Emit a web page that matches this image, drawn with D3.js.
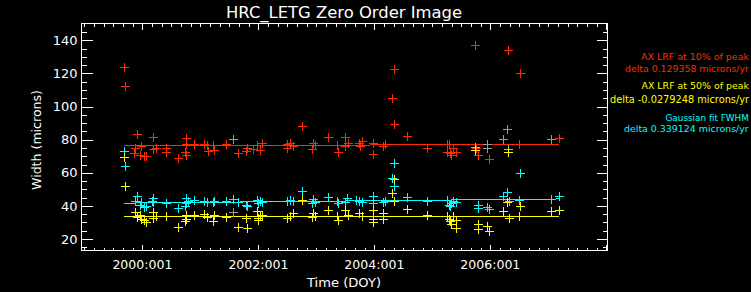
<!DOCTYPE html>
<html><head><meta charset="utf-8">
<script src="https://cdn.jsdelivr.net/npm/d3@7"></script>
<style>html,body{margin:0;padding:0;background:#000;}svg{display:block;}</style>
</head><body>
<script>
// ---- data ----
const xTickYears = [2000, 2002, 2004, 2006];
const xTickLabels = ["2000:001", "2002:001", "2004:001", "2006:001"];
const yTicks = [20, 40, 60, 80, 100, 120, 140];

// AX LRF at 10% of peak [time (yr), width (microns)]
const red10 = [[1999.68,124.0],[1999.70,112.3],[1999.91,83.5],[1999.87,75.2],[1999.98,76.4],[1999.86,71.8],[1999.96,70.8],[2000.03,70.2],[2000.07,70.2],
 [2000.18,81.8],[2000.18,74.2],[2000.23,74.9],[2000.40,74.9],[2000.40,72.8],[2000.62,69.2],[2000.75,80.9],[2000.75,77.3],[2000.73,72.8],[2000.75,70.8],
 [2000.89,77.4],[2001.06,77.4],[2001.12,76.8],[2001.13,73.2],[2001.22,76.8],[2001.24,73.8],[2001.45,77.3],[2001.64,71.8],[2001.78,73.2],[2001.80,75.2],
 [2001.97,76.8],[2002.03,73.8],[2001.91,74.2],[2002.07,77.9],[2002.50,77.4],[2002.54,78.2],[2002.60,76.2],[2002.50,74.9],[2002.76,88.5],[2002.94,78.2],
 [2002.98,76.8],[2002.92,74.2],[2003.20,81.5],[2003.36,76.8],[2003.38,72.8],[2003.49,81.5],[2003.55,78.2],[2003.49,76.2],[2003.74,78.2],[2003.78,79.4],
 [2003.75,76.2],[2003.97,78.2],[2003.98,71.2],[2004.15,76.2],[2004.18,77.4],[2004.34,122.4],[2004.30,104.9],[2004.34,89.3],[2004.56,82.3],[2004.90,74.9],
 [2005.25,77.4],[2005.29,77.4],[2005.26,72.8],[2005.33,70.8],[2005.36,74.9],[2005.41,72.8],[2005.30,71.8],[2005.74,137.4],[2005.75,74.9],[2005.78,70.8],
 [2005.97,68.2],[2006.31,134.0],[2006.51,120.0],[2006.50,77.4],[2007.19,81.2]];
// AX LRF at 50% of peak
const yellow50 = [[1999.68,69.8],[1999.70,52.2],[1999.87,36.1],[1999.90,33.4],[1999.96,34.7],[1999.98,32.1],[2000.03,31.7],[2000.07,30.1],[2000.18,36.1],
 [2000.18,32.7],[2000.23,33.7],[2000.40,34.1],[2000.62,27.3],[2000.75,34.7],[2000.75,32.1],[2000.73,30.7],[2000.89,34.7],[2001.06,35.2],[2001.12,33.4],
 [2001.22,30.7],[2001.24,34.7],[2001.45,33.4],[2001.64,27.3],[2001.78,32.7],[2001.80,26.7],[2001.97,36.7],[2002.00,32.7],[2002.03,33.7],[2002.07,34.7],
 [2002.00,31.7],[2002.50,32.7],[2002.54,34.1],[2002.60,35.8],[2002.76,43.8],[2002.94,35.8],[2002.98,34.1],[2002.92,33.4],[2003.20,37.7],[2003.36,33.7],
 [2003.38,31.7],[2003.49,37.7],[2003.55,34.7],[2003.74,35.8],[2003.78,33.7],[2003.97,37.7],[2003.97,32.1],[2003.98,30.1],[2004.15,35.8],[2004.15,32.1],
 [2004.30,47.8],[2004.34,56.2],[2004.34,42.7],[2004.56,38.2],[2004.90,34.7],[2005.25,33.7],[2005.28,32.1],[2005.33,29.3],[2005.36,33.7],[2005.41,31.7],
 [2005.30,30.7],[2005.41,26.7],[2005.74,73.8],[2005.78,29.3],[2005.78,26.1],[2005.95,27.7],[2005.97,24.7],[2006.22,37.2],[2006.29,42.1],[2006.31,72.8],
 [2006.33,32.7],[2006.51,40.2],[2006.50,34.1],[2007.05,36.7],[2007.19,37.7]];
// Gaussian fit FWHM
const cyanFwhm = [[1999.68,73.2],[1999.70,64.2],[1999.91,45.7],[1999.87,42.7],[1999.96,40.8],[1999.98,42.1],[2000.03,39.1],[2000.07,39.7],[2000.18,44.8],
 [2000.18,42.1],[2000.16,42.7],[2000.40,41.8],[2000.62,38.8],[2000.75,44.8],[2000.75,41.8],[2000.73,39.7],[2000.79,42.7],[2000.89,43.8],[2001.06,42.7],
 [2001.12,42.1],[2001.22,42.1],[2001.24,42.7],[2001.45,42.7],[2001.56,44.2],[2001.64,42.1],[2001.78,40.8],[2001.80,39.7],[2001.97,43.8],[2002.00,41.8],
 [2002.03,42.7],[2002.07,42.1],[2002.50,42.7],[2002.54,43.8],[2002.60,42.7],[2002.76,48.8],[2002.94,44.2],[2002.98,42.1],[2002.92,41.8],[2003.20,45.4],
 [2003.36,42.7],[2003.38,41.8],[2003.52,44.8],[2003.49,42.1],[2003.68,43.8],[2003.74,42.7],[2003.78,42.1],[2003.97,45.7],[2003.97,41.8],[2004.15,42.1],
 [2004.18,42.7],[2004.34,66.2],[2004.30,56.8],[2004.34,51.8],[2004.56,45.4],[2004.90,42.7],[2005.25,43.3],[2005.29,40.8],[2005.33,41.8],[2005.36,42.7],
 [2005.41,42.1],[2005.30,39.7],[2005.74,75.8],[2005.78,40.8],[2005.78,38.8],[2005.95,39.4],[2005.97,38.2],[2006.22,45.7],[2006.29,48.2],[2006.31,74.2],
 [2006.33,42.7],[2006.51,59.8],[2006.50,43.8],[2007.05,44.2],[2007.19,46.2]];
// grey markers
const greyPts = [[2001.56,80.4],[2001.56,36.1],[2005.95,77.4],[2005.95,74.9],[2006.22,80.3],[2006.29,86.3],[2007.05,80.3]];

// fit lines
const fitTimes = [1999.68, 2007.19];
const redFit = [76.2, 77.2];
const yellowFit = [33.8, 33.6];
const cyanFit = [41.7, 44.2];

const legendLines = [
  {text: "AX LRF at 10% of peak", color: "red"},
  {text: "delta 0.129358 microns/yr", color: "red"},
  {text: "AX LRF at 50% of peak", color: "yellow"},
  {text: "delta -0.0279248 microns/yr", color: "yellow"},
  {text: "Gaussian fit FWHM", color: "cyan"},
  {text: "delta 0.339124 microns/yr", color: "cyan"}
];

// ---- drawing ----
const W = 751, H = 292;
const colors = {red: "#ff2a00", yellow: "#ffff00", cyan: "#00ffff", grey: "#9a9a9a", white: "#ffffff"};
const L = 81.5, R = 607.5, T = 23.5, B = 250.5;
const FONT = "'DejaVu Sans', sans-serif";

const svg = d3.select("body").append("svg").attr("width", W).attr("height", H)
  .style("background", "#000");

const x = d3.scaleLinear().domain([1998.95, 2008.02]).range([L, R]);
const y = d3.scaleLinear().domain([13.1, 150.1]).range([B, T]);

svg.append("rect").attr("x", L).attr("y", T).attr("width", R - L).attr("height", B - T)
  .attr("fill", "none").attr("stroke", colors.white).attr("stroke-width", 1).attr("shape-rendering", "crispEdges");

const tickG = svg.append("g").attr("stroke", colors.white).attr("stroke-width", 1).attr("shape-rendering", "crispEdges");
d3.range(15, 150, 5).forEach(v => {
  const len = v % 20 === 0 ? 11 : 5;
  const yy = Math.round(y(v)) + 0.5;
  tickG.append("line").attr("x1", L).attr("x2", L + len).attr("y1", yy).attr("y2", yy);
  tickG.append("line").attr("x1", R).attr("x2", R - len).attr("y1", yy).attr("y2", yy);
});
d3.range(0, 60).map(i => 1999 + i / 6).filter(t => t > 1998.95 && t < 2008.02).forEach(t => {
  const major = Math.abs((t - 2000) / 2 - Math.round((t - 2000) / 2)) < 1e-6;
  const len = major ? 6 : 3;
  const xx = Math.round(x(t)) + 0.5;
  tickG.append("line").attr("x1", xx).attr("x2", xx).attr("y1", B).attr("y2", B - len);
  tickG.append("line").attr("x1", xx).attr("x2", xx).attr("y1", T).attr("y2", T + len);
});

svg.append("g").selectAll("text").data(yTicks).join("text")
  .attr("x", 77.5).attr("y", d => y(d) + 4.7).attr("text-anchor", "end")
  .attr("fill", colors.white).attr("font-family", FONT).attr("font-size", 13).text(d => d);

svg.append("g").selectAll("text").data(xTickYears).join("text")
  .attr("x", d => x(d)).attr("y", 269).attr("text-anchor", "middle")
  .attr("fill", colors.white).attr("font-family", FONT).attr("font-size", 12.5)
  .attr("textLength", 60).attr("lengthAdjust", "spacingAndGlyphs")
  .text((d, i) => xTickLabels[i]);

svg.append("text").attr("x", 344).attr("y", 17.5).attr("text-anchor", "middle")
  .attr("fill", colors.white).attr("font-family", FONT).attr("font-size", 16)
  .attr("textLength", 236).attr("lengthAdjust", "spacingAndGlyphs")
  .text("HRC_LETG Zero Order Image");
svg.append("text").attr("x", 344).attr("y", 287).attr("text-anchor", "middle")
  .attr("fill", colors.white).attr("font-family", FONT).attr("font-size", 13)
  .attr("textLength", 74).attr("lengthAdjust", "spacingAndGlyphs")
  .text("Time (DOY)");
svg.append("text").attr("transform", "translate(41,140) rotate(-90)").attr("text-anchor", "middle")
  .attr("fill", colors.white).attr("font-family", FONT).attr("font-size", 13)
  .attr("textLength", 100).attr("lengthAdjust", "spacingAndGlyphs")
  .text("Width (microns)");

const fitG = svg.append("g").attr("stroke-width", 1).attr("shape-rendering", "crispEdges");
[[redFit, colors.red], [yellowFit, colors.yellow], [cyanFit, colors.cyan]].forEach(([f, c]) => {
  fitG.append("line").attr("x1", x(fitTimes[0])).attr("x2", x(fitTimes[1]))
    .attr("y1", y(f[0])).attr("y2", y(f[1])).attr("stroke", c);
});

function plus(g, data, color) {
  const s = 4.5;
  g.selectAll(null).data(data).join("path")
    .attr("d", d => {
      const cx = Math.round(x(d[0])) + 0.5, cy = Math.round(y(d[1])) + 0.5;
      return `M${cx - s},${cy}H${cx + s}M${cx},${cy - s}V${cy + s}`;
    })
    .attr("stroke", color).attr("stroke-width", 1).attr("fill", "none").attr("shape-rendering", "crispEdges");
}
const mG = svg.append("g");
plus(mG.append("g"), red10, colors.red);
plus(mG.append("g"), cyanFwhm, colors.cyan);
plus(mG.append("g"), yellow50, colors.yellow);
plus(mG.append("g"), greyPts, colors.grey);

// legend: font size fitted so each line spans from its start to the right edge
const legendStarts = [641, 625, 641.5, 610, 665.5, 624];
const legendBase = [60, 71.7, 89, 102.7, 120.7, 132.3];
const legendRight = 749;
svg.append("g").selectAll("text").data(legendLines).join("text")
  .attr("x", (d, i) => legendStarts[i]).attr("y", (d, i) => legendBase[i])
  .attr("fill", d => colors[d.color]).attr("font-family", FONT).attr("font-size", 10)
  .text(d => d.text)
  .each(function(d, i) {
    const nat = this.getComputedTextLength();
    const fs = 10 * (legendRight - legendStarts[i]) / nat;
    d3.select(this).attr("font-size", fs.toFixed(2));
  });
</script>
</body></html>
